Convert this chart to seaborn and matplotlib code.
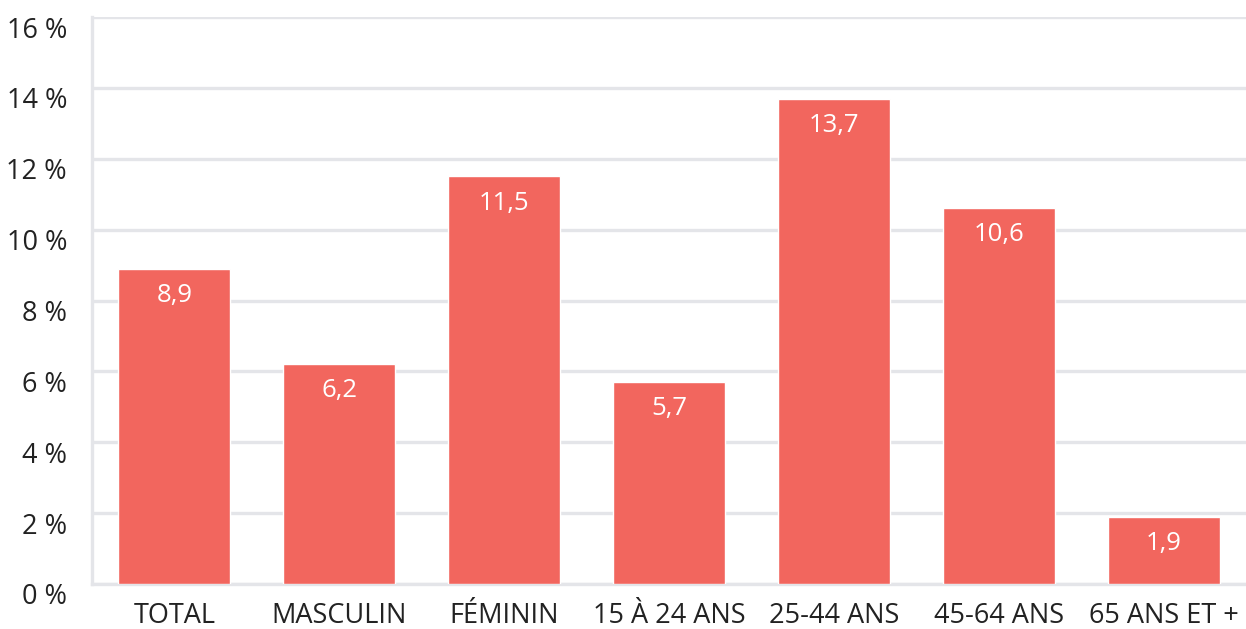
import numpy as np
import pandas as pd
import matplotlib
matplotlib.use("Agg")
import matplotlib.pyplot as plt
import matplotlib.transforms as mtransforms
import seaborn as sns
from matplotlib.ticker import FixedLocator

categories = ["TOTAL", "MASCULIN", "FÉMININ", "15 À 24 ANS", "25-44 ANS", "45-64 ANS", "65 ANS ET +"]
values = [8.9, 6.2, 11.5, 5.7, 13.7, 10.6, 1.9]
y_ticks = [0, 2, 4, 6, 8, 10, 12, 14, 16]

BAR_COLOR = "#F2665E"
GRID_COLOR = "#E4E5E9"
TEXT_COLOR = "#222222"

sns.set_theme(style="white")
plt.rcParams["font.family"] = ["Open Sans", "DejaVu Sans"]

df = pd.DataFrame({"cat": categories, "val": values})

fig = plt.figure(figsize=(12.46, 6.29), dpi=100)
ax = fig.add_axes([92 / 1246, 1 - 584 / 629, 1 - 92 / 1246, (584 - 17) / 629])

sns.barplot(data=df, x="cat", y="val", color=BAR_COLOR, saturation=1, width=0.68, ax=ax, zorder=3)

ax.set_ylim(0, 16)
ax.set_xlim(-0.5, len(categories) - 0.5)
ax.set_yticks(y_ticks)
ax.set_yticklabels([f"{t} %" for t in y_ticks])
ax.yaxis.grid(True, color=GRID_COLOR, linewidth=2.4, zorder=0)
ax.set_axisbelow(True)
ax.set_xlabel("")
ax.set_ylabel("")

for side in ["top", "right"]:
    ax.spines[side].set_visible(False)
for side in ["left", "bottom"]:
    ax.spines[side].set_color(GRID_COLOR)
    ax.spines[side].set_linewidth(2.4)

ax.tick_params(axis="y", length=0, pad=18, labelsize=19.5, labelcolor=TEXT_COLOR)
ax.tick_params(axis="x", which="major", length=0, pad=13, labelsize=19.5, labelcolor=TEXT_COLOR)
ax.xaxis.set_minor_locator(FixedLocator(np.arange(len(categories) - 1) + 0.5))
ax.tick_params(axis="x", which="minor", direction="in", length=10, width=2.4, color=GRID_COLOR)

# y labels sit a little below their gridline in the original
shift = mtransforms.ScaledTranslation(0, -10 / 100, fig.dpi_scale_trans)
for lbl in ax.get_yticklabels():
    lbl.set_transform(lbl.get_transform() + shift)

for i, v in enumerate(values):
    ax.text(i, v - 0.75, f"{v:.1f}".replace(".", ","), ha="center", va="center",
            color="white", fontsize=18.5, zorder=4)

fig.savefig("out.png", dpi=100)
